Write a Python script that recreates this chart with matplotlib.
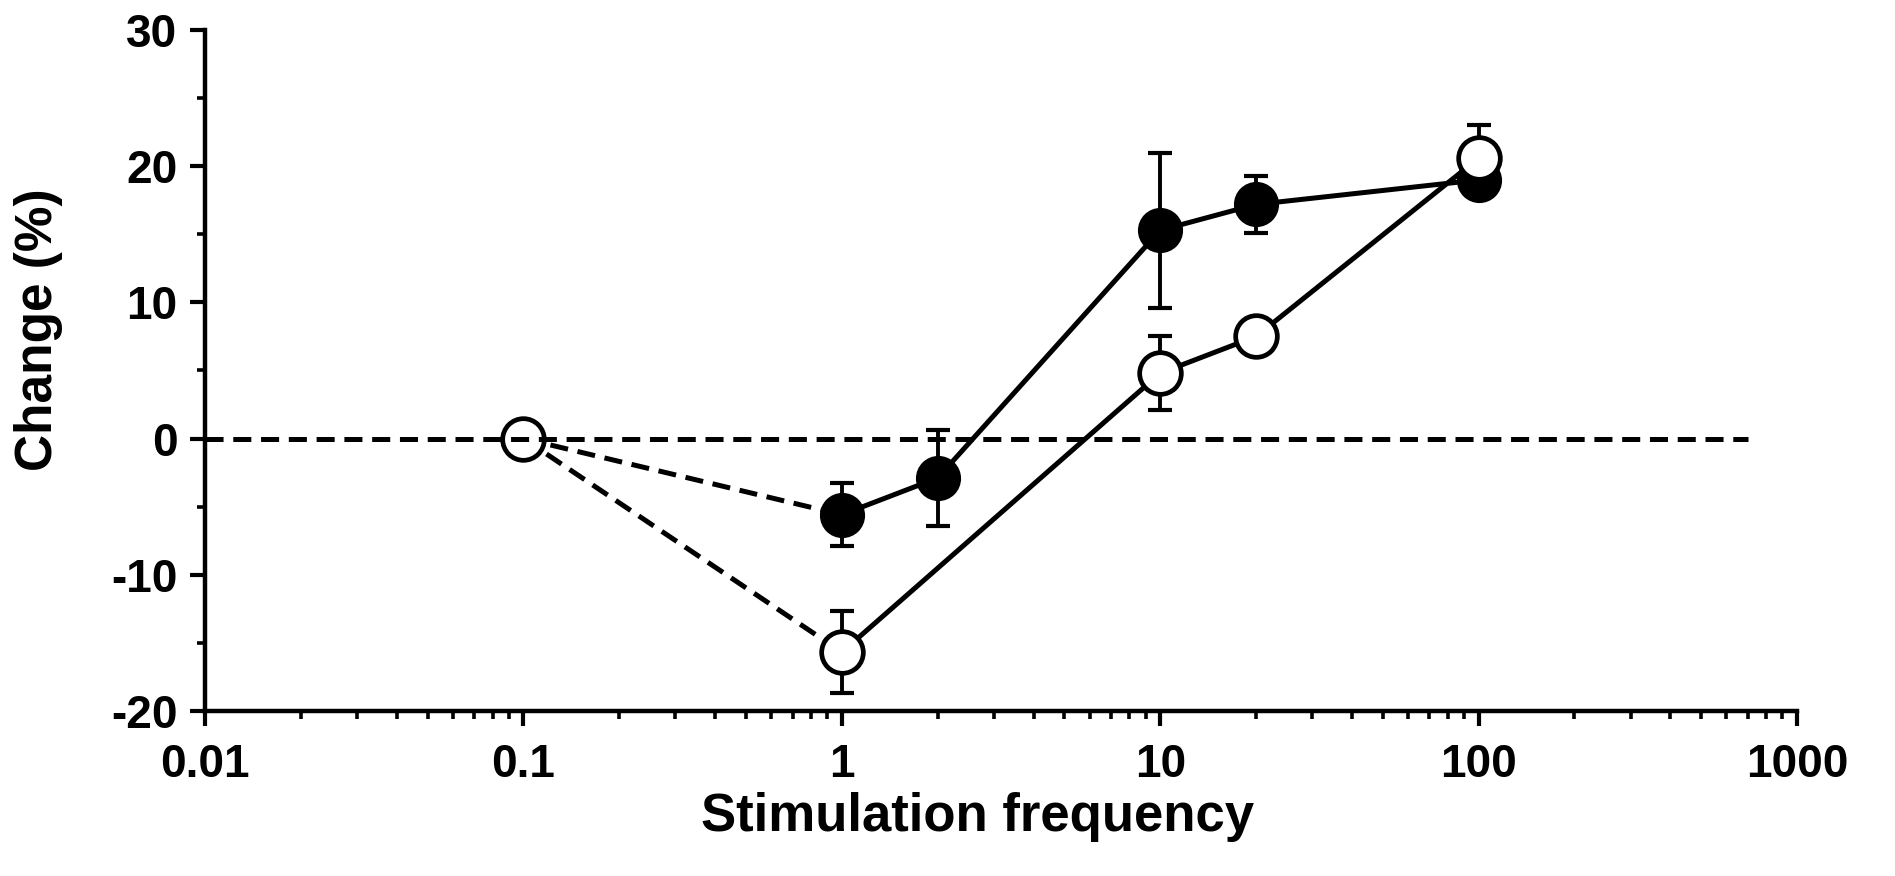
import numpy as np
import matplotlib
matplotlib.use("Agg")
import matplotlib.pyplot as plt
from matplotlib.ticker import LogLocator, MultipleLocator, FixedLocator

plt.rcParams['font.family'] = ['Liberation Sans', 'DejaVu Sans']
plt.rcParams['lines.scale_dashes'] = False

# point de controle commun
f_ctrl = 0.1
c_ctrl = 0.0

# cercles vides
f_open = np.array([1, 10, 20, 100])
c_open = np.array([-15.7, 4.8, 7.5, 20.6])
e_open = np.array([3.0, 2.7, 1.3, 2.4])

# cercles pleins
f_fill = np.array([1, 2, 10, 20, 100])
c_fill = np.array([-5.6, -2.9, 15.3, 17.2, 19.0])
e_fill = np.array([2.3, 3.5, 5.7, 2.1, 1.0])

# ligne de reference
f_zero = [0.01, 700]
c_zero = [0, 0]

xticks = [0.01, 0.1, 1, 10, 100, 1000]
xlabels = ['0.01', '0.1', '1', '10', '100', '1000']
yticks = [-20, -10, 0, 10, 20, 30]
ylabels = ['-20', '-10', '0', '10', '20', '30']

fig = plt.figure(figsize=(18.95, 8.76), dpi=100)
ax = fig.add_axes([0.1082, 0.1887, 0.8401, 0.7768])

lw = 3.6
ms = 30
dash = (13, 7)

ax.plot(f_zero, c_zero, 'k', lw=lw, dashes=dash, zorder=6)
ax.plot([f_ctrl, f_open[0]], [c_ctrl, c_open[0]], 'k', lw=lw, dashes=dash, zorder=2)
ax.plot([f_ctrl, f_fill[0]], [c_ctrl, c_fill[0]], 'k', lw=lw, dashes=dash, zorder=2)
ax.plot(f_fill, c_fill, 'k-', lw=lw, zorder=2)
ax.plot(f_open, c_open, 'k-', lw=lw, zorder=2)

ax.errorbar(f_fill, c_fill, yerr=e_fill, fmt='none', ecolor='k', elinewidth=2.8,
            capsize=8.5, capthick=3, zorder=3)
ax.errorbar(f_open, c_open, yerr=e_open, fmt='none', ecolor='k', elinewidth=2.8,
            capsize=8.5, capthick=3, zorder=3)

ax.plot(f_fill, c_fill, 'o', ms=ms, mfc='k', mec='k', mew=2.5, zorder=4)
ax.plot(f_open, c_open, 'o', ms=ms, mfc='w', mec='k', mew=3.4, zorder=5)
ax.plot([f_ctrl], [c_ctrl], 'o', ms=ms, mfc='w', mec='k', mew=3.4, zorder=5)

ax.set_xscale('log')
ax.set_xlim(0.01, 1000)
ax.set_ylim(-20, 30)
ax.xaxis.set_major_locator(FixedLocator(xticks))
ax.set_xticklabels(xlabels, fontweight='bold')
ax.xaxis.set_minor_locator(LogLocator(base=10, subs=np.arange(2, 10), numticks=20))
ax.xaxis.set_minor_formatter(plt.NullFormatter())
ax.set_yticks(yticks)
ax.set_yticklabels(ylabels, fontweight='bold')
ax.yaxis.set_minor_locator(MultipleLocator(5))

for s in ['top', 'right']:
    ax.spines[s].set_visible(False)
for s in ['left', 'bottom']:
    ax.spines[s].set_linewidth(3.2)

ax.tick_params(which='major', direction='out', length=11, width=3, labelsize=33)
ax.tick_params(which='minor', direction='out', length=6, width=2.6)
ax.tick_params(axis='x', which='major', pad=12)
ax.tick_params(axis='y', which='major', pad=9)

ax.set_xlabel('Stimulation frequency', fontsize=38, fontweight='bold')
ax.set_ylabel('Change (%)', fontsize=37, fontweight='bold')
ax.xaxis.set_label_coords(0.485, -0.119)
ax.yaxis.set_label_coords(-0.089, 0.56)

plt.savefig('out.png', dpi=100)
